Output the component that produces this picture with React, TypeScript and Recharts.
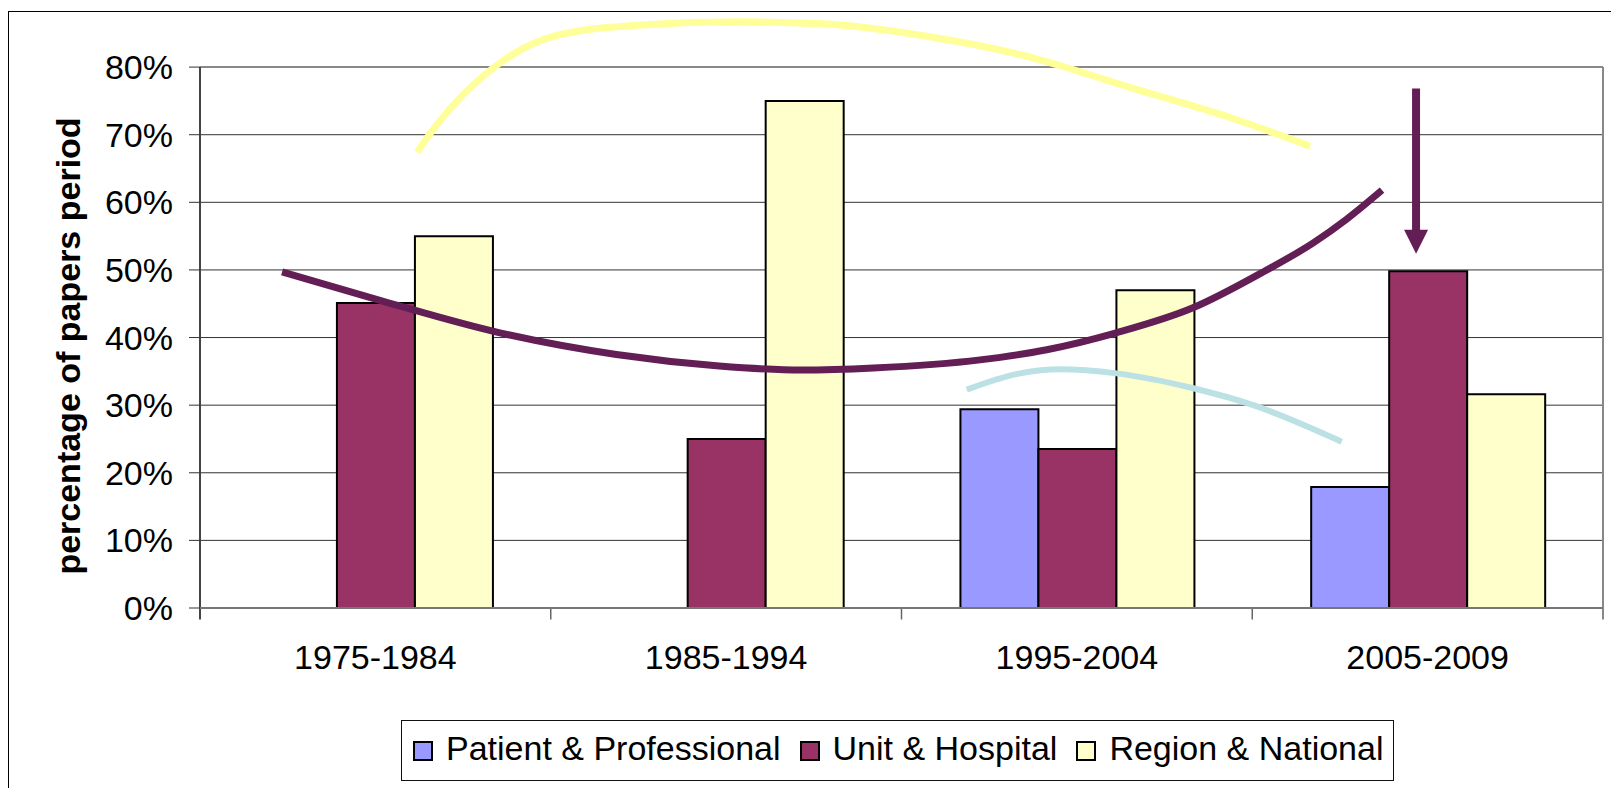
import React from 'react';
import {
  ComposedChart,
  Bar,
  Line,
  XAxis,
  YAxis,
  CartesianGrid,
  ReferenceLine,
  Legend,
  Label,
} from 'recharts';

// ---------- data ----------
const periods = ['1975-1984', '1985-1994', '1995-2004', '2005-2009'];
const patientProfessional: (number | null)[] = [null, null, 29.4, 17.9];
const unitHospital = [45.1, 25.0, 23.5, 49.8];
const regionNational = [55.0, 75.0, 47.0, 31.6];

const seriesNames = ['Patient & Professional', 'Unit & Hospital', 'Region & National'];
const seriesKeys = ['patient', 'unit', 'region'];
const seriesColors = ['#9999FF', '#993366', '#FFFFCC'];

const yTicks = [0, 10, 20, 30, 40, 50, 60, 70, 80];
const yTitle = 'percentage of papers period';

// hand-drawn annotation curves, in (category position 0..4, percent) units
const yellowArc: [number, number][] = [
  [0.619, 67.4], [0.664, 70.7], [0.855, 80.6], [1.012, 84.6], [1.246, 86.2],
  [1.54, 86.7], [1.773, 86.4], [2.067, 84.6], [2.358, 81.6], [2.651, 77.0],
  [2.945, 72.4], [3.165, 68.3],
];
const purpleCurve: [number, number][] = [
  [0.234, 49.7], [0.513, 45.5], [0.855, 40.7], [1.187, 37.5], [1.48, 35.8],
  [1.715, 35.2], [1.92, 35.5], [2.224, 36.7], [2.414, 38.2], [2.612, 40.7],
  [2.831, 44.4], [3.031, 49.7], [3.174, 54.0], [3.269, 57.5], [3.37, 61.8],
];
const tealCurve: [number, number][] = [
  [2.186, 32.3], [2.338, 34.7], [2.452, 35.3], [2.613, 34.7], [2.832, 32.5], [3.003, 30.0], [3.255, 24.6],
];
const arrowPath: [number, number][] = [[3.467, 76.85], [3.467, 55.8]];
const categoryBoundaries = [1, 2, 3];

// ---------- derived ----------
const chartData = periods.map((p, i) => ({
  period: p,
  patient: patientProfessional[i],
  unit: unitHospital[i],
  region: regionNational[i],
}));
const toPts = (arr: [number, number][]) => arr.map(([x, y]) => ({ x, y }));

const FONT = "'Liberation Sans', Arial, Helvetica, sans-serif";
const PURPLE = '#631E55';
const YELLOW = '#FFFF99';
const TEAL = '#BBE1E5';

const arrowDot = (props: any) => {
  const { cx, cy, index } = props;
  if (index !== arrowPath.length - 1) return <g key={`ad-${index}`} />;
  return (
    <polygon
      key={`ad-${index}`}
      points={`${cx - 12},${cy - 1} ${cx + 12},${cy - 1} ${cx},${cy + 23}`}
      fill={PURPLE}
    />
  );
};

const renderLegend = () => (
  <div
    style={{
      boxSizing: 'border-box',
      width: 993,
      height: 61,
      border: '1px solid #111',
      background: '#fff',
      display: 'flex',
      alignItems: 'center',
      paddingLeft: 11,
      fontFamily: FONT,
      fontSize: 34,
      color: '#000',
      whiteSpace: 'nowrap',
    }}
  >
    {seriesNames.map((n, i) => (
      <div key={n} style={{ display: 'flex', alignItems: 'center', marginRight: 19 }}>
        <span
          style={{
            display: 'inline-block',
            boxSizing: 'border-box',
            width: 20,
            height: 20,
            border: '2px solid #000',
            background: seriesColors[i],
            marginRight: 13,
          }}
        />
        <span style={{ position: 'relative', top: -3, lineHeight: 1 }}>{n}</span>
      </div>
    ))}
  </div>
);

const YTitle = (props: any) => (
  <text
    x={80}
    y={346}
    transform="rotate(-90 80 346)"
    textAnchor="middle"
    fontSize={34}
    fontWeight="bold"
    fontFamily={FONT}
    fill="#000"
  >
    {props.value}
  </text>
);

export default function App() {
  return (
    <div style={{ position: 'fixed', left: 0, top: 0, width: 1611, height: 788, background: '#fff', overflow: 'hidden' }}>
      <div style={{ position: 'absolute', left: 0, top: 0 }}>
        <ComposedChart
          width={1611}
          height={788}
          data={chartData}
          margin={{ top: 13, right: 8, bottom: 120, left: 0 }}
          barCategoryGap="16.8%"
          barGap={0}
        >
          <CartesianGrid vertical={false} horizontalValues={yTicks} stroke="#333" strokeWidth={1} />
          <XAxis
            dataKey="period"
            height={60}
            interval={0}
            tickLine={false}
            tickSize={0}
            tickMargin={37}
            axisLine={{ stroke: '#777', strokeWidth: 2 }}
            tick={{ fontSize: 34, fill: '#000', fontFamily: FONT }}
          />
          <XAxis xAxisId="n" type="number" dataKey="x" domain={[0, 4]} hide allowDataOverflow />
          <YAxis
            width={200}
            domain={[0, 88]}
            ticks={yTicks}
            interval={0}
            tickFormatter={(v: number) => `${v}%`}
            axisLine={false}
            tickSize={11}
            tickMargin={16}
            tickLine={{ stroke: '#333' }}
            tick={{ fontSize: 34, fill: '#000', fontFamily: FONT }}
          >
            <Label value={yTitle} content={YTitle} />
          </YAxis>

          {seriesKeys.map((k, i) => (
            <Bar
              key={k}
              dataKey={k}
              name={seriesNames[i]}
              fill={seriesColors[i]}
              stroke="#000"
              strokeWidth={2}
              isAnimationActive={false}
            />
          ))}

          <ReferenceLine y={80} xAxisId="n" stroke="#888" strokeWidth={2} ifOverflow="visible" />
          <ReferenceLine
            xAxisId="n"
            segment={[{ x: 4, y: -1.7 }, { x: 4, y: 80 }]}
            stroke="#888"
            strokeWidth={2}
            ifOverflow="visible"
          />
          <ReferenceLine
            xAxisId="n"
            segment={[{ x: 0, y: -1.7 }, { x: 0, y: 80 }]}
            stroke="#444"
            strokeWidth={2}
            ifOverflow="visible"
          />
          {categoryBoundaries.map((b) => (
            <ReferenceLine
              key={`b${b}`}
              xAxisId="n"
              segment={[{ x: b, y: -1.7 }, { x: b, y: 0 }]}
              stroke="#666"
              strokeWidth={1.5}
              ifOverflow="visible"
            />
          ))}

          <Line
            xAxisId="n"
            data={toPts(yellowArc)}
            dataKey="y"
            type="monotone"
            stroke={YELLOW}
            strokeWidth={7}
            dot={false}
            activeDot={false}
            legendType="none"
            isAnimationActive={false}
          />
          <Line
            xAxisId="n"
            data={toPts(tealCurve)}
            dataKey="y"
            type="monotone"
            stroke={TEAL}
            strokeWidth={6}
            dot={false}
            activeDot={false}
            legendType="none"
            isAnimationActive={false}
          />
          <Line
            xAxisId="n"
            data={toPts(purpleCurve)}
            dataKey="y"
            type="monotone"
            stroke={PURPLE}
            strokeWidth={7}
            dot={false}
            activeDot={false}
            legendType="none"
            isAnimationActive={false}
          />
          <Line
            xAxisId="n"
            data={toPts(arrowPath)}
            dataKey="y"
            type="linear"
            stroke={PURPLE}
            strokeWidth={8}
            dot={arrowDot}
            activeDot={false}
            legendType="none"
            isAnimationActive={false}
          />

          <Legend
            layout="horizontal"
            verticalAlign="middle"
            align="center"
            content={renderLegend}
            wrapperStyle={{ left: 401, top: 720, width: 993, height: 61 }}
          />
        </ComposedChart>
      </div>
      <div style={{ position: 'absolute', left: 8, top: 11, width: 1603, height: 1, background: '#000', zIndex: 5 }} />
      <div style={{ position: 'absolute', left: 8, top: 11, width: 1, height: 777, background: '#000', zIndex: 5 }} />
    </div>
  );
}
